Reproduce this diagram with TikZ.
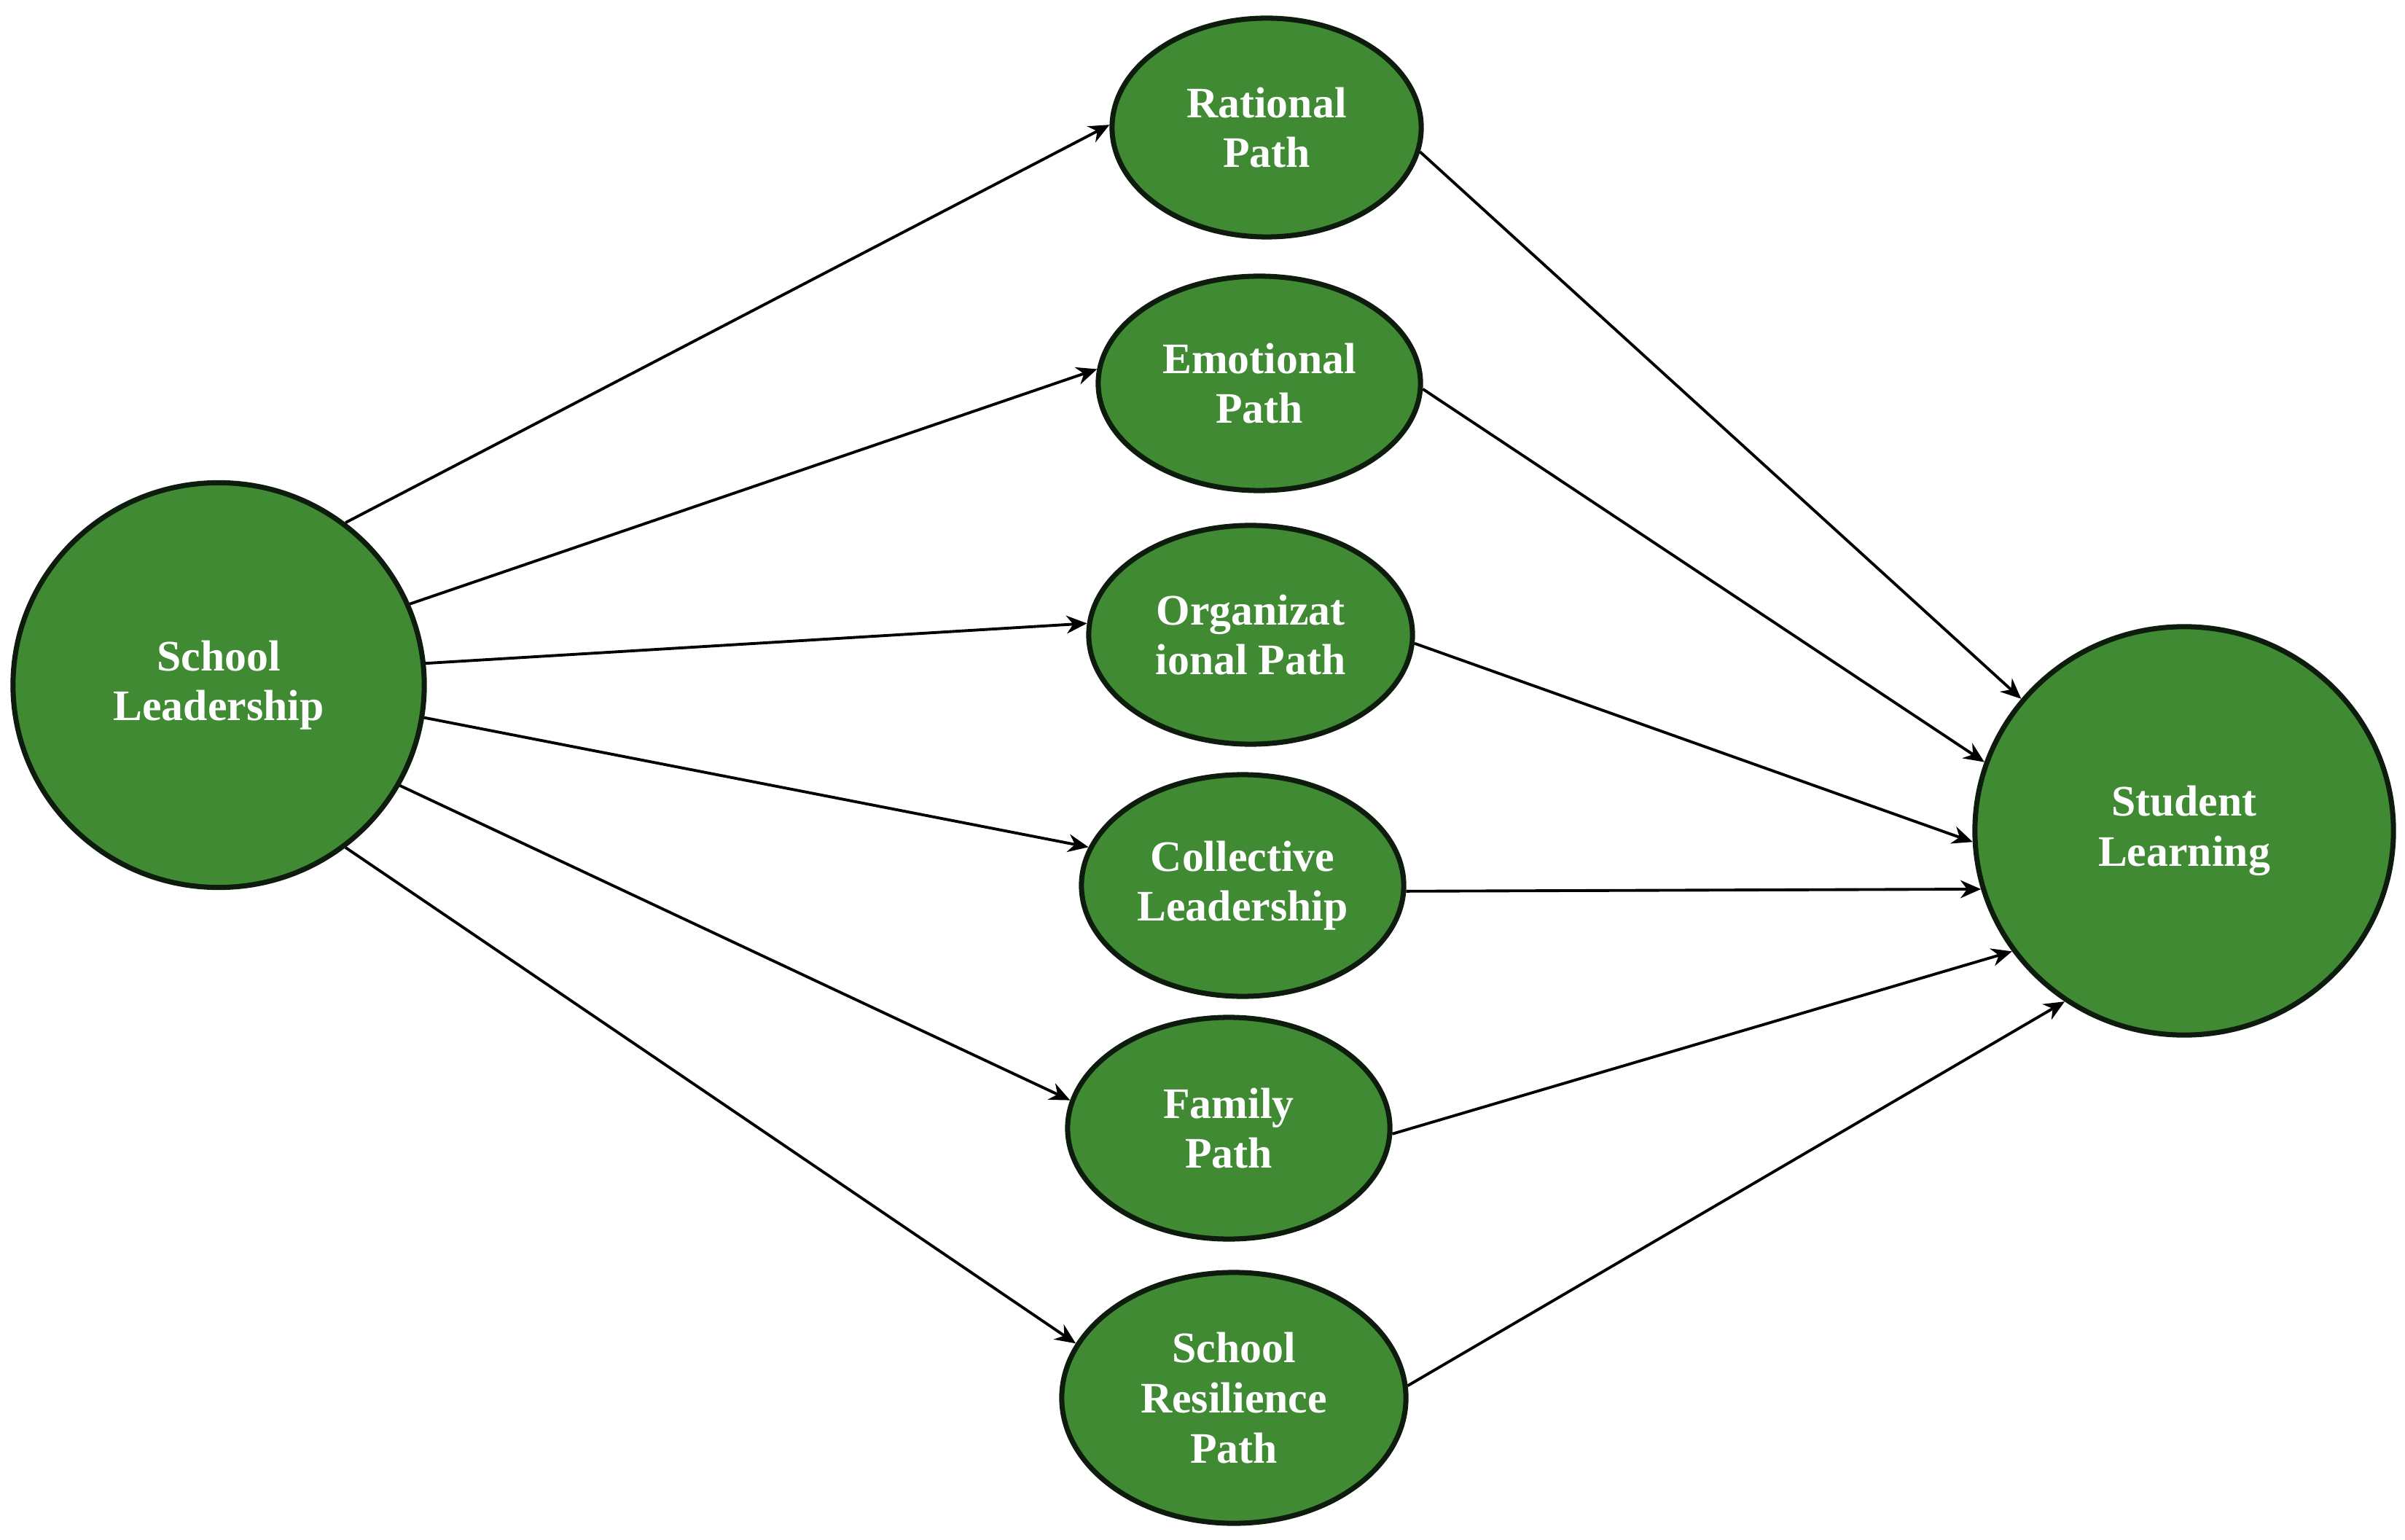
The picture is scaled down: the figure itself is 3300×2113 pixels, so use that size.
\documentclass[tikz,border=0pt]{standalone}
\usepackage{fontspec}
\setmainfont{Liberation Serif}
\usetikzlibrary{shapes.geometric, arrows.meta}
\definecolor{pathgreen}{RGB}{64,138,52}
\definecolor{rimdark}{RGB}{14,28,14}

\begin{document}
\begin{tikzpicture}[x=0.01cm, y=-0.01cm,
    blob/.style={ellipse, draw=rimdark, line width=2pt, fill=pathgreen, text=white,
        font=\fontsize{17}{19.5}\selectfont\bfseries, align=center, inner sep=0pt},
    link/.style={-{Stealth[length=8pt,width=7pt]}, line width=1.1pt}]
    \useasboundingbox (0,0) rectangle (3300,2113);
    \node[blob, minimum width=5.64cm, minimum height=5.55cm] (lead) at (300,940) {School\\Leadership};
    \node[blob, minimum width=4.24cm, minimum height=3.0cm] (rat) at (1738,175) {Rational\\Path};
    \node[blob, minimum width=4.42cm, minimum height=2.94cm] (emo) at (1728,526) {Emotional\\Path};
    \node[blob, minimum width=4.44cm, minimum height=3.0cm] (org) at (1716,871) {Organizat\\ional Path};
    \node[blob, minimum width=4.42cm, minimum height=3.04cm] (coll) at (1705,1215) {Collective\\Leadership};
    \node[blob, minimum width=4.42cm, minimum height=3.04cm] (fam) at (1686,1548) {Family\\Path};
    \node[blob, minimum width=4.72cm, minimum height=3.44cm] (res) at (1693,1918) {School\\Resilience\\Path};
    \node[blob, minimum width=5.74cm, minimum height=5.6cm] (stud) at (2997,1140) {Student\\Learning};
    \draw[link] (lead.52) -- (rat.179);
    \draw[link] (lead.23.5) -- (emo.175.6);
    \draw[link] (lead.6.2) -- (org.176);
    \draw[link] (lead.-9) -- (coll.166);
    \draw[link] (lead.-29.5) -- (fam.170);
    \draw[link] (lead.-52.2) -- (res.161);
    \draw[link] (rat.-9.2) -- (stud.141.3);
    \draw[link] (emo.-2.6) -- (stud.161);
    \draw[link] (org.-3.8) -- (stud.183.6);
    \draw[link] (coll.-2.8) -- (stud.196.9);
    \draw[link] (fam.-2.6) -- (stud.215);
    \draw[link] (res.4.4) -- (stud.235.4);
\end{tikzpicture}
\end{document}
